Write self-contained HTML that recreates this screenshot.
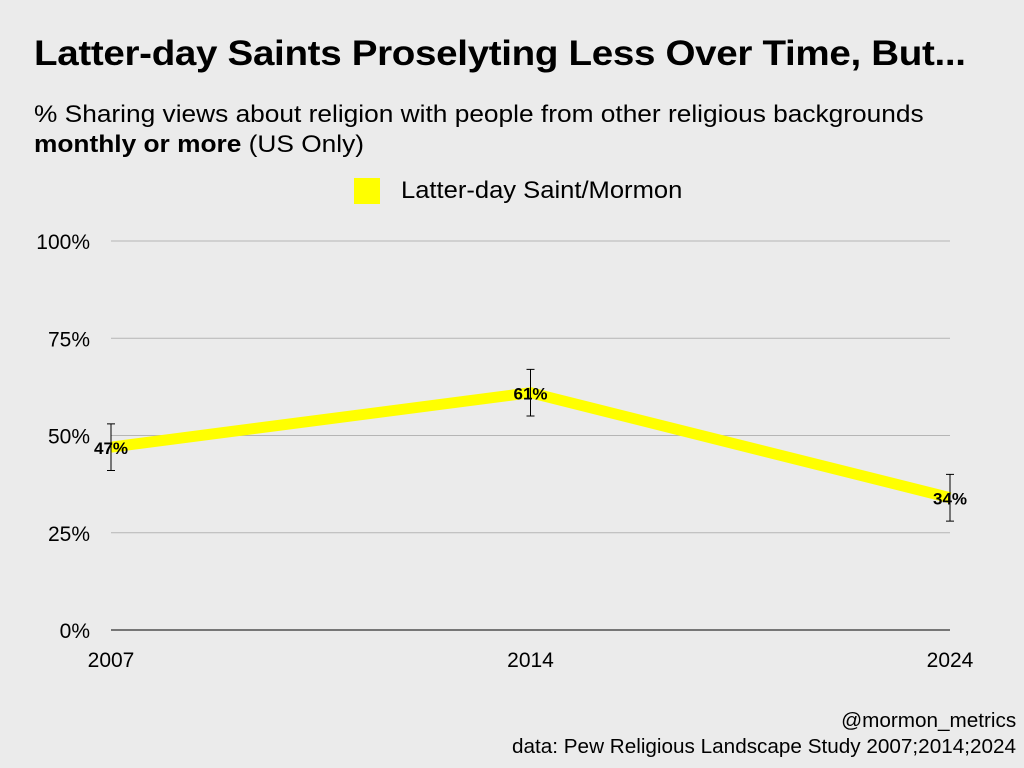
<!DOCTYPE html>
<html><head><meta charset="utf-8">
<style>
body{margin:0;width:1024px;height:768px;background:#ebebeb;font-family:"Liberation Sans",sans-serif;overflow:hidden;position:relative}
.t{position:absolute;white-space:nowrap;color:#000}
</style></head><body>
<div class="t" style="left:34px;top:34px;font-size:35px;font-weight:bold;letter-spacing:-0.3px;transform:scaleX(1.102);transform-origin:left top">Latter-day Saints Proselyting Less Over Time, But...</div>
<div class="t" style="left:34px;top:100px;font-size:24px;line-height:30px;transform:scaleX(1.095);transform-origin:left top">% Sharing views about religion with people from other religious backgrounds<br><b>monthly or more</b> (US Only)</div>
<div style="position:absolute;left:354px;top:178px;width:26px;height:26px;background:#ffff00"></div>
<div class="t" style="left:401px;top:177px;font-size:24px;transform:scaleX(1.065);transform-origin:left top">Latter-day Saint/Mormon</div>
<div class="t" style="right:8px;top:710px;font-size:20px;transform:scaleX(1.035);transform-origin:right top">@mormon_metrics</div>
<div class="t" style="right:8px;top:736px;font-size:20px;transform:scaleX(1.035);transform-origin:right top">data: Pew Religious Landscape Study 2007;2014;2024</div>
<svg id="chart" width="1024" height="768" style="position:absolute;left:0;top:0"></svg>
<script>
const categories=["2007","2014","2024"];
const values=[47,61,34];
const errors=[6,6,6];
const yTicks=[0,25,50,75,100];
const yTickLabels=["0%","25%","50%","75%","100%"];
const svg=document.getElementById('chart');
const NS='http://www.w3.org/2000/svg';
const x0=111,x1=950,yb=630,yt=241;
const xs=i=>x0+(x1-x0)*i/(categories.length-1);
const ys=v=>yb-(yb-yt)*v/100;
function mk(t,a){const e=document.createElementNS(NS,t);for(const k in a)e.setAttribute(k,a[k]);svg.appendChild(e);return e;}
yTicks.forEach((v,i)=>{
  const g=mk('line',{x1:x0,x2:x1,y1:ys(v),y2:ys(v),stroke:v===0?'#000':'#b5b5b5','stroke-width':1});
  
  
  const t=mk('text',{x:90,y:ys(v)+8,'text-anchor':'end','font-size':21,'font-family':'Liberation Sans, sans-serif'});
  t.textContent=yTickLabels[i];
  
  
});
categories.forEach((c,i)=>{
  const t=mk('text',{x:xs(i),y:667,'text-anchor':'middle','font-size':21,'font-family':'Liberation Sans, sans-serif'});
  t.textContent=c;
  
  
});
const line=mk('polyline',{points:values.map((v,i)=>xs(i)+','+ys(v)).join(' '),fill:'none',stroke:'#ffff00','stroke-width':11,'stroke-linejoin':'round'});


values.forEach((v,i)=>{
  const x=xs(i),a=ys(v+errors[i]),b=ys(v-errors[i]);
  const g=mk('path',{d:`M${x},${a}V${b}M${x-4},${a}H${x+4}M${x-4},${b}H${x+4}`,stroke:'#000','stroke-width':1,fill:'none'});
  
  
  const t=mk('text',{x:x,y:ys(v)+7,'text-anchor':'middle','font-size':17,'font-weight':'bold','font-family':'Liberation Sans, sans-serif'});
  t.textContent=v+'%';
  
  
});
</script>
</body></html>
